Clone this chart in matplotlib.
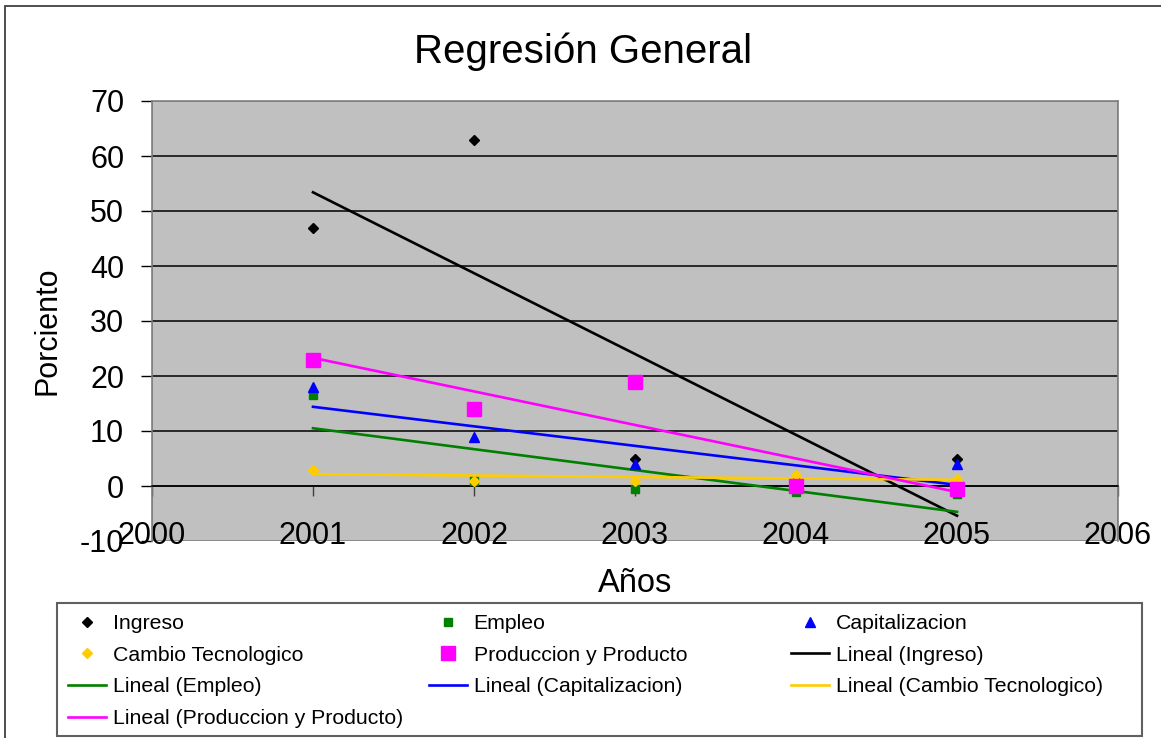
import numpy as np
from matplotlib import pyplot as plt
import matplotlib.patches as patches

plt.rcParams['font.family'] = ['Liberation Sans', 'DejaVu Sans']
plt.rcParams['axes.unicode_minus'] = False

years = [2001, 2002, 2003, 2004, 2005]
ingreso = [47, 63, 5, 0, 5]
empleo = [16.5, 1, -0.5, -1, -1.5]
capitalizacion = [18, 9, 4, 1.5, 4]
cambio_tec = [3, 1, 1, 2, 1.2]
produccion = [23, 14, 19, 0, -0.5]

series_names = ['Ingreso', 'Empleo', 'Capitalizacion', 'Cambio Tecnologico', 'Produccion y Producto']
series_values = [ingreso, empleo, capitalizacion, cambio_tec, produccion]
series_colors = ['#000000', '#008000', '#0000FF', '#FFCC00', '#FF00FF']
series_markers = ['D', 's', '^', 'D', 's']
series_msizes = [5.5, 6, 7, 4.6, 10]

y_ticks = list(range(-10, 80, 10))
x_ticks = [2000, 2001, 2002, 2003, 2004, 2005, 2006]

W, H = 1161, 738
fig = plt.figure(figsize=(W / 100, H / 100), dpi=100)
ax = fig.add_axes([152 / W, 1 - 541 / H, (1118 - 152) / W, (541 - 101) / H])
ax.set_facecolor('#C0C0C0')

ax.set_xlim(2000, 2006)
ax.set_ylim(-10, 70)
ax.set_yticks(y_ticks)
ax.set_xticks(x_ticks)

# horizontal gridlines
for yv in y_ticks[1:-1]:
    ax.axhline(yv, color='#000000', lw=1.1, zorder=1)

# plot-area border, x axis crossing at zero
for s in ['left', 'top', 'right']:
    ax.spines[s].set_color('#808080')
    ax.spines[s].set_linewidth(1.2)
ax.spines['bottom'].set_position(('data', 0))
ax.spines['bottom'].set_color('#000000')
ax.spines['bottom'].set_linewidth(1.1)
ax.add_patch(patches.Rectangle((0, 0), 1, 1, transform=ax.transAxes, fill=False,
                               edgecolor='#808080', lw=1.2, zorder=0.5))

ax.tick_params(axis='y', direction='out', length=8, width=1, color='#000000',
               labelsize=22, pad=12)
ax.tick_params(axis='x', direction='out', length=7, width=1, color='#404040',
               labelsize=22, pad=18)

handles = {}
x_arr = np.array(years, dtype=float)
for name, vals, col, mk, ms in zip(series_names, series_values, series_colors,
                                   series_markers, series_msizes):
    h, = ax.plot(years, vals, linestyle='none', marker=mk, markersize=ms,
                 color=col, markeredgecolor=col, zorder=4, label=name)
    handles[name] = h
for name, vals, col in zip(series_names, series_values, series_colors):
    k, b = np.polyfit(x_arr, np.array(vals, dtype=float), 1)
    h, = ax.plot(x_arr, k * x_arr + b, color=col, lw=1.9, zorder=3,
                 label='Lineal (%s)' % name)
    handles['Lineal (%s)' % name] = h

fig.text(583 / W, 1 - 52 / H, 'Regresión General', fontsize=29,
         ha='center', va='center')
fig.text(47 / W, 1 - 331 / H, 'Porciento', fontsize=22, rotation=90,
         ha='center', va='center')
fig.text(635 / W, 1 - 584 / H, 'Años', fontsize=23.5, ha='center', va='center')

# figure border (left and top visible)
fig.add_artist(patches.Rectangle((5 / W, -0.05), 1.2, 1.05 - 6 / H, transform=fig.transFigure,
                                 fill=False, edgecolor='#404040', lw=1.3))

# legend frame
fig.add_artist(patches.Rectangle((57 / W, 1 - 736 / H), (1142 - 57) / W, (736 - 603) / H,
                                 transform=fig.transFigure, fill=False,
                                 edgecolor='#606060', lw=1.5))

columns = [
    ['Ingreso', 'Cambio Tecnologico', 'Lineal (Empleo)', 'Lineal (Produccion y Producto)'],
    ['Empleo', 'Produccion y Producto', 'Lineal (Capitalizacion)'],
    ['Capitalizacion', 'Lineal (Ingreso)', 'Lineal (Cambio Tecnologico)'],
]
col_x = [68, 429, 791]
for labels, cx in zip(columns, col_x):
    leg = fig.legend([handles[l] for l in labels], labels, loc='upper left',
                     bbox_to_anchor=(cx / W, 1 - 614 / H), frameon=False,
                     fontsize=15.3, handlelength=1.8, handletextpad=0.3,
                     labelspacing=0.6, borderpad=0, borderaxespad=0)

fig.savefig('out.png', dpi=100)
